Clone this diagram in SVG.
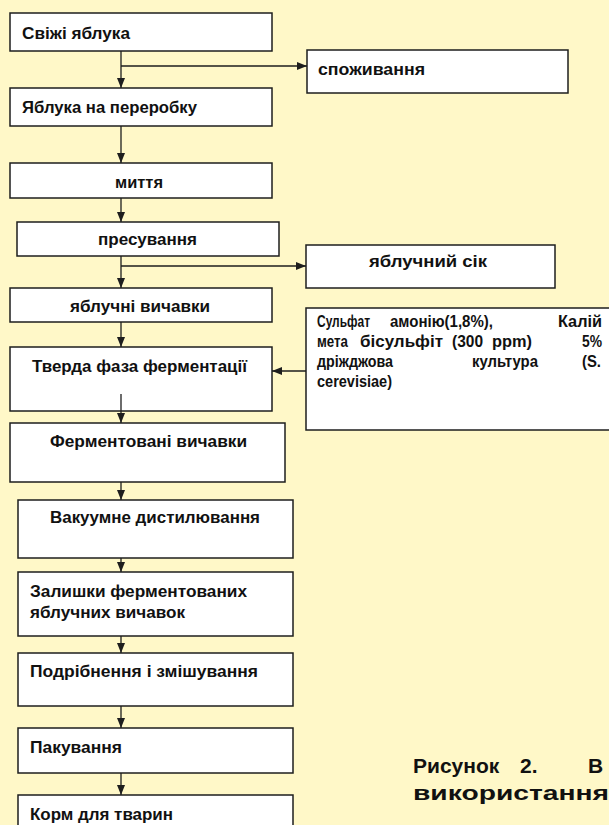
<svg xmlns="http://www.w3.org/2000/svg" width="609" height="825" viewBox="0 0 609 825">
  <style>
    .box { fill: #ffffff; stroke: #1e1e1e; stroke-width: 1.5; }
    .t { font-family: "Liberation Sans", Arial, sans-serif; font-weight: bold; font-size: 16px; fill: #111111; }
    .cap { font-family: "Liberation Sans", Arial, sans-serif; font-weight: bold; font-size: 21px; fill: #111111; }
    .edge { fill: none; stroke: #1e1e1e; stroke-width: 1.3; }
  </style>
  <defs>
    <marker id="arrow" markerUnits="userSpaceOnUse" markerWidth="10" markerHeight="10" viewBox="0 0 10 10" refX="10" refY="5" orient="auto">
      <path d="M0,1 L10,5 L0,9 Z" fill="#1e1e1e"/>
    </marker>
  </defs>

  <rect x="0" y="0" width="609" height="825" fill="#fff8c8"/>

  <!-- process steps -->
  <g id="fresh-apples">
    <rect class="box" x="10" y="13" width="262" height="38"/>
    <text class="t" x="22" y="39" textLength="108" lengthAdjust="spacingAndGlyphs">Свіжі яблука</text>
  </g>
  <g id="consumption">
    <rect class="box" x="307" y="50" width="261" height="43"/>
    <text class="t" x="318" y="75" textLength="107" lengthAdjust="spacingAndGlyphs">споживання</text>
  </g>
  <g id="apples-for-processing">
    <rect class="box" x="10" y="88" width="262" height="38"/>
    <text class="t" x="22" y="113" textLength="175" lengthAdjust="spacingAndGlyphs">Яблука на переробку</text>
  </g>
  <g id="washing">
    <rect class="box" x="10" y="163" width="262" height="35"/>
    <text class="t" x="115" y="188" textLength="48" lengthAdjust="spacingAndGlyphs">миття</text>
  </g>
  <g id="pressing">
    <rect class="box" x="17" y="222" width="262" height="34"/>
    <text class="t" x="98" y="245" textLength="99" lengthAdjust="spacingAndGlyphs">пресування</text>
  </g>
  <g id="apple-juice">
    <rect class="box" x="306" y="245" width="249" height="43"/>
    <text class="t" x="369" y="267" textLength="118" lengthAdjust="spacingAndGlyphs">яблучний сік</text>
  </g>
  <g id="apple-pomace">
    <rect class="box" x="10" y="288" width="262" height="34"/>
    <text class="t" x="70" y="312" textLength="140" lengthAdjust="spacingAndGlyphs">яблучні вичавки</text>
  </g>
  <g id="solid-state-fermentation">
    <rect class="box" x="10" y="347" width="262" height="64"/>
    <text class="t" x="32" y="372" textLength="215" lengthAdjust="spacingAndGlyphs">Тверда фаза ферментації</text>
  </g>
  <g id="additives">
    <rect class="box" x="306" y="308" width="304" height="122"/>
    <text class="t" x="317" y="327" textLength="53" lengthAdjust="spacingAndGlyphs">Сульфат</text>
    <text class="t" x="390" y="327" textLength="103" lengthAdjust="spacingAndGlyphs">амонію(1,8%),</text>
    <text class="t" x="558" y="327" textLength="44" lengthAdjust="spacingAndGlyphs">Калій</text>
    <text class="t" x="317" y="347" textLength="31" lengthAdjust="spacingAndGlyphs">мета</text>
    <text class="t" x="360" y="347" textLength="83" lengthAdjust="spacingAndGlyphs">бісульфіт</text>
    <text class="t" x="452" y="347" textLength="31" lengthAdjust="spacingAndGlyphs">(300</text>
    <text class="t" x="492" y="347" textLength="40" lengthAdjust="spacingAndGlyphs">ppm)</text>
    <text class="t" x="582" y="347" textLength="20" lengthAdjust="spacingAndGlyphs">5%</text>
    <text class="t" x="317" y="367" textLength="76" lengthAdjust="spacingAndGlyphs">дріжджова</text>
    <text class="t" x="472" y="367" textLength="66" lengthAdjust="spacingAndGlyphs">культура</text>
    <text class="t" x="582" y="367" textLength="19" lengthAdjust="spacingAndGlyphs">(S.</text>
    <text class="t" x="317" y="387" textLength="75" lengthAdjust="spacingAndGlyphs">cerevisiae)</text>
  </g>
  <g id="fermented-pomace">
    <rect class="box" x="10" y="423" width="275" height="59"/>
    <text class="t" x="50" y="447" textLength="197" lengthAdjust="spacingAndGlyphs">Ферментовані вичавки</text>
  </g>
  <g id="vacuum-distillation">
    <rect class="box" x="18" y="500" width="275" height="58"/>
    <text class="t" x="50" y="523" textLength="210" lengthAdjust="spacingAndGlyphs">Вакуумне дистилювання</text>
  </g>
  <g id="fermented-residue">
    <rect class="box" x="18" y="572" width="275" height="64"/>
    <text class="t" x="30" y="597" textLength="217" lengthAdjust="spacingAndGlyphs">Залишки ферментованих</text>
    <text class="t" x="30" y="618" textLength="155" lengthAdjust="spacingAndGlyphs">яблучних вичавок</text>
  </g>
  <g id="grinding-mixing">
    <rect class="box" x="18" y="653" width="275" height="53"/>
    <text class="t" x="30" y="677" textLength="228" lengthAdjust="spacingAndGlyphs">Подрібнення і змішування</text>
  </g>
  <g id="packing">
    <rect class="box" x="18" y="728" width="275" height="45"/>
    <text class="t" x="30" y="753" textLength="92" lengthAdjust="spacingAndGlyphs">Пакування</text>
  </g>
  <g id="animal-feed">
    <rect class="box" x="18" y="795" width="275" height="40"/>
    <text class="t" x="30" y="820" textLength="143" lengthAdjust="spacingAndGlyphs">Корм для тварин</text>
  </g>

  <!-- connectors -->
  <g id="connectors">
    <line class="edge" x1="121" y1="51" x2="121" y2="88" marker-end="url(#arrow)"/>
    <line class="edge" x1="121" y1="66" x2="307" y2="66" marker-end="url(#arrow)"/>
    <line class="edge" x1="121" y1="126" x2="121" y2="163" marker-end="url(#arrow)"/>
    <line class="edge" x1="121" y1="198" x2="121" y2="222" marker-end="url(#arrow)"/>
    <line class="edge" x1="121" y1="256" x2="121" y2="288" marker-end="url(#arrow)"/>
    <line class="edge" x1="121" y1="266" x2="306" y2="266" marker-end="url(#arrow)"/>
    <line class="edge" x1="121" y1="322" x2="121" y2="347" marker-end="url(#arrow)"/>
    <line class="edge" x1="306" y1="371" x2="272" y2="371" marker-end="url(#arrow)"/>
    <line class="edge" x1="121" y1="394" x2="121" y2="423" marker-end="url(#arrow)"/>
    <line class="edge" x1="121" y1="482" x2="121" y2="500" marker-end="url(#arrow)"/>
    <line class="edge" x1="121" y1="558" x2="121" y2="572" marker-end="url(#arrow)"/>
    <line class="edge" x1="121" y1="636" x2="121" y2="653" marker-end="url(#arrow)"/>
    <line class="edge" x1="121" y1="706" x2="121" y2="728" marker-end="url(#arrow)"/>
    <line class="edge" x1="121" y1="773" x2="121" y2="795" marker-end="url(#arrow)"/>
  </g>

  <!-- figure caption -->
  <g id="caption">
    <text class="cap" y="773"><tspan x="413">Рисунок</tspan><tspan x="520">2.</tspan><tspan x="588">В</tspan></text>
    <text class="cap" x="413" y="800" textLength="196" lengthAdjust="spacingAndGlyphs">використання</text>
  </g>
</svg>
